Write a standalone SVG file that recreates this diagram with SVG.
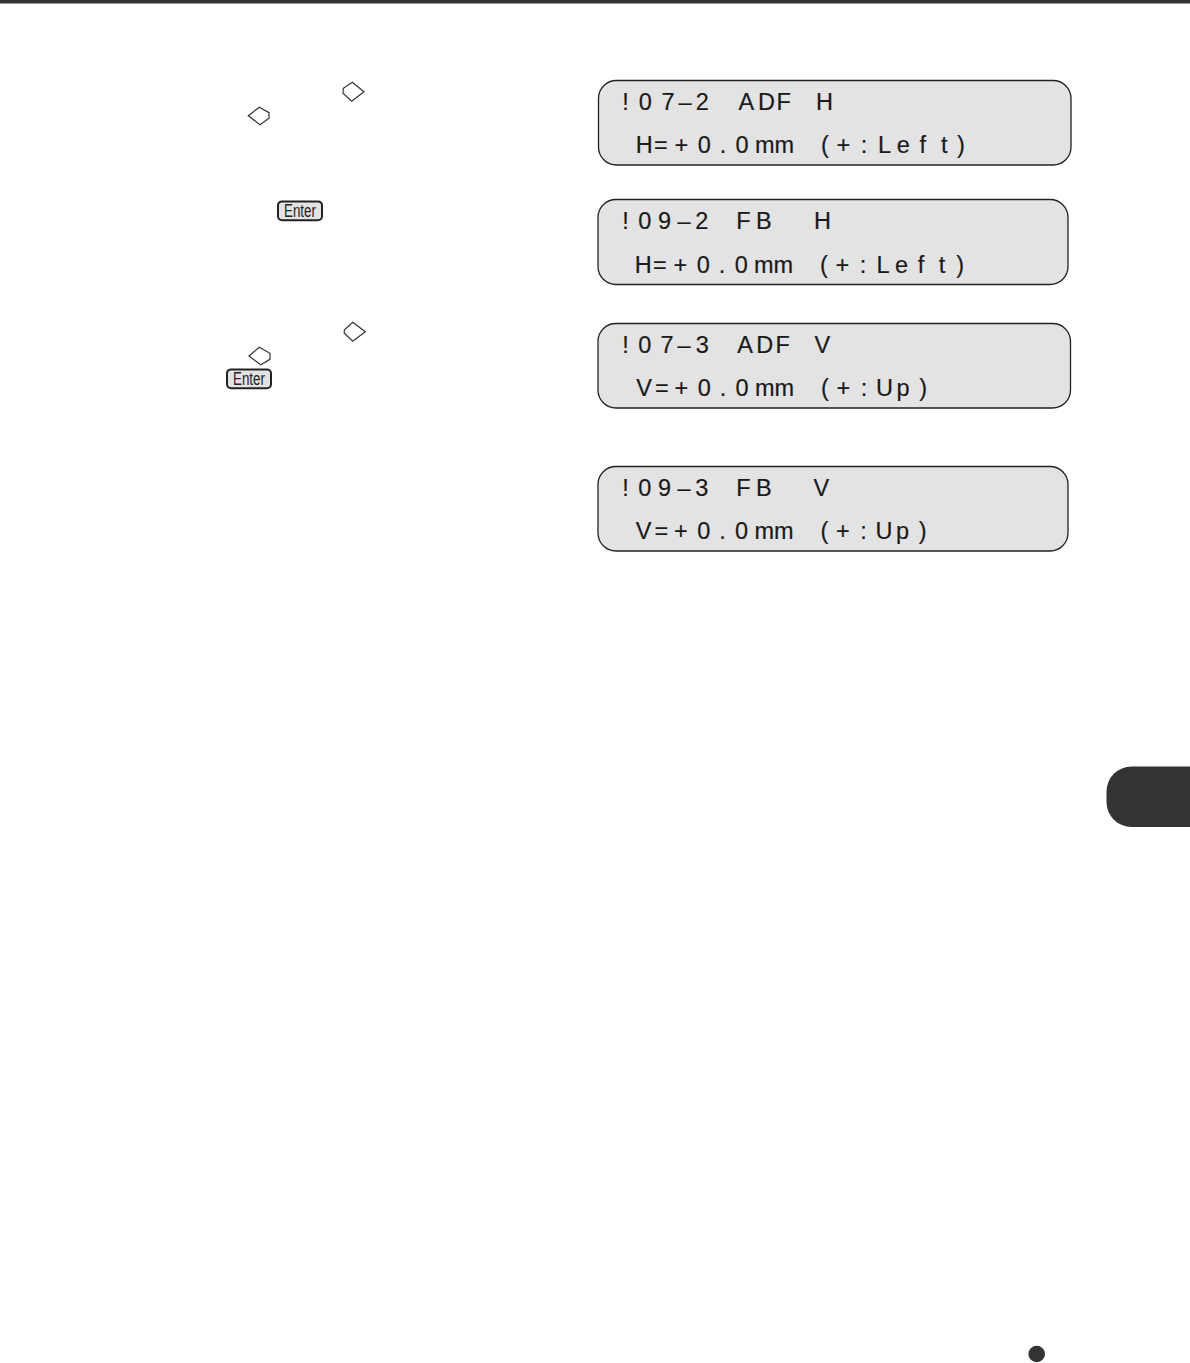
<svg xmlns="http://www.w3.org/2000/svg" width="1190" height="1363" viewBox="0 0 1190 1363">
<style>
.panel{fill:#e3e3e3;stroke:#222;stroke-width:1.3}
.lcd{font-family:"Liberation Sans",Arial,sans-serif;font-size:23.5px;fill:#1a1a1a;stroke:#1a1a1a;stroke-width:.2}
.dia{fill:#fff;stroke:#333;stroke-width:1.2}
.key{fill:#e3e3e3;stroke:#222;stroke-width:2}
.keyt{font-family:"Liberation Sans",Arial,sans-serif;font-size:18px;fill:#222}
.dark{fill:#333}
</style>
<rect id="top-bar" class="dark" x="0" y="0" width="1190" height="3.5"/>
<g id="panel-07-2">
<rect class="panel" x="598.5" y="80.5" width="472.5" height="84.5" rx="18"/>
<text class="lcd" y="110" x="622.3 638.8 661.5 678.5 695.8 738.5 758 776.4 816">!07–2ADFH</text>
<text class="lcd" y="153.3" x="635.8 654 674.5 697.8 719.8 735.6 755 774.5 821 836.5 860.8 878 896.8 919.4 941 957">H=+0.0mm(+:Left)</text>
</g>
<g id="panel-09-2">
<rect class="panel" x="598" y="199.5" width="470" height="85" rx="18"/>
<text class="lcd" y="229.3" x="622.3 638.3 658 677.5 695.3 736.3 756 814">!09–2FBH</text>
<text class="lcd" y="272.7" x="634.8 653 673.5 696.8 718.8 734.8 754 773.5 820 835.5 859.8 876.4 895 917.7 938.8 956.3">H=+0.0mm(+:Left)</text>
</g>
<g id="panel-07-3">
<rect class="panel" x="598" y="323.5" width="472.5" height="84.5" rx="18"/>
<text class="lcd" y="353.3" x="622.3 638.3 660.5 677.5 695.8 737.2 756.3 775.4 814.5">!07–3ADFV</text>
<text class="lcd" y="396" x="636.2 655 674.5 697.8 719.8 735.6 755 774.5 821 836.5 860.8 876 896.5 919.2">V=+0.0mm(+:Up)</text>
</g>
<g id="panel-09-3">
<rect class="panel" x="598" y="466.5" width="470" height="84.5" rx="18"/>
<text class="lcd" y="496" x="622.3 638.3 658 677.5 695.3 736.3 756 813.5">!09–3FBV</text>
<text class="lcd" y="539" x="635.7 654.5 674 697.3 719.3 735.1 754.5 774 820.5 836 860.3 875.5 896 918.7">V=+0.0mm(+:Up)</text>
</g>
<path id="diamond-1" class="dia" d="M352.3 82.3L364 91.7L351.7 101.3L343 93.3L343.3 88.3Z"/>
<path id="diamond-2" class="dia" d="M248.3 115.7L259.3 107.3L269 112.7V118.3L260 124.7Z"/>
<path id="diamond-3" class="dia" d="M352.7 322.3L365.3 331.7L352.7 341.3L344.3 333.3V330Z"/>
<path id="diamond-4" class="dia" d="M249 356L259.3 347.3L270 353.3V359.3L260.7 364.7Z"/>
<g id="enter-1">
<rect class="key" x="278" y="201.4" width="44" height="18.8" rx="4"/>
<text class="keyt" x="284" y="217.2" textLength="32" lengthAdjust="spacingAndGlyphs">Enter</text>
</g>
<g id="enter-2">
<rect class="key" x="227" y="369.4" width="44" height="18.8" rx="4"/>
<text class="keyt" x="233" y="385.2" textLength="32" lengthAdjust="spacingAndGlyphs">Enter</text>
</g>
<rect id="side-tab" class="dark" x="1106.5" y="766.5" width="110" height="60.5" rx="25"/>
<circle id="bullet" class="dark" cx="1036.7" cy="1354" r="8.3"/>
</svg>
